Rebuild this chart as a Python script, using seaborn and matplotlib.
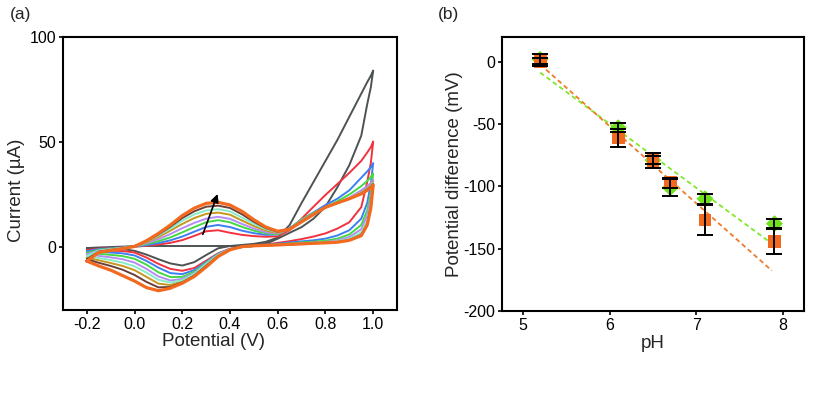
import matplotlib
matplotlib.use("Agg")
import numpy as np
import pandas as pd
import matplotlib.pyplot as plt
import seaborn as sns

# ---- panel (a): cyclic voltammograms ----
potential = [-0.2, -0.15, -0.1, -0.05, 0.0, 0.05, 0.1, 0.15, 0.2, 0.25, 0.3, 0.35, 0.4,
             0.45, 0.5, 0.55, 0.6, 0.65, 0.7, 0.75, 0.8, 0.85, 0.9, 0.95, 0.975, 0.99, 1.0]

scans = ["gray", "red", "blue", "green", "purple", "gold", "aqua", "brown", "orange"]

# anodic (forward) branch, current in uA at each potential
forward = {
    "gray":   [-0.5, -0.2, 0.0, 0.2, 0.4, 0.5, 0.5, 0.5, 0.5, 0.5, 0.5, 0.5, 0.5,
               0.5, 0.6, 1.5, 4.0, 6.8, 9.5, 13.5, 19.2, 28.5, 39.0, 53.0, 68.0, 76.0, 84.0],
    "red":    [-1.5, -0.8, -0.5, -0.2, 0.2, 0.6, 1.2, 2.0, 3.3, 5.3, 7.5, 8.0, 6.8,
               5.8, 5.2, 4.9, 5.1, 8.0, 13.5, 19.2, 24.8, 30.0, 35.3, 41.0, 45.0, 47.5, 50.2],
    "blue":   [-2.0, -1.0, -0.6, -0.2, 0.2, 0.9, 1.9, 3.2, 5.0, 7.3, 9.6, 10.5, 9.5,
               7.8, 6.6, 5.8, 6.0, 9.0, 13.0, 16.5, 20.0, 23.0, 27.0, 33.0, 36.0, 38.0, 40.0],
    "green":  [-2.8, -1.3, -0.8, -0.3, 0.3, 1.4, 2.8, 4.6, 7.0, 9.5, 11.8, 12.8, 11.8,
               9.6, 7.8, 6.5, 6.0, 8.8, 13.2, 16.3, 19.0, 21.8, 25.0, 29.0, 31.5, 33.3, 35.0],
    "purple": [-3.5, -1.6, -1.0, -0.4, 0.3, 1.8, 3.8, 6.2, 9.0, 11.5, 13.5, 14.4, 13.4,
               11.0, 8.8, 7.0, 6.4, 8.5, 12.8, 16.0, 19.0, 21.0, 23.5, 27.0, 29.0, 30.5, 32.0],
    "gold":   [-5.0, -2.0, -1.2, -0.5, 0.4, 2.3, 4.8, 7.8, 11.0, 13.8, 15.8, 16.4, 15.4,
               12.6, 10.0, 7.8, 6.8, 8.4, 12.4, 15.8, 18.9, 21.0, 23.0, 26.0, 28.0, 29.5, 31.0],
    "aqua":   [-4.2, -1.8, -1.1, -0.5, 0.4, 2.6, 5.5, 8.8, 12.5, 15.5, 17.4, 18.0, 17.0,
               14.0, 11.0, 8.5, 7.0, 8.4, 12.2, 15.6, 18.9, 21.0, 23.0, 25.8, 27.8, 29.2, 30.5],
    "brown":  [-5.8, -2.2, -1.4, -0.7, 0.4, 2.8, 6.0, 9.7, 13.8, 17.0, 19.2, 19.7, 18.6,
               15.6, 12.0, 9.0, 7.2, 8.4, 12.1, 15.5, 18.9, 21.0, 23.0, 25.5, 27.5, 28.8, 30.0],
    "orange": [-6.7, -2.5, -1.6, -0.8, 0.3, 3.0, 6.5, 10.5, 15.0, 18.5, 20.8, 21.3, 20.0,
               17.0, 13.0, 9.5, 7.5, 8.5, 12.0, 15.5, 18.9, 21.0, 23.0, 25.3, 27.0, 28.3, 29.5],
}

# cathodic (reverse) branch, listed at the same ascending potentials
reverse = {
    "gray":   [-0.5, -0.6, -0.8, -1.0, -1.8, -3.6, -5.8, -7.8, -8.8, -7.2, -3.8, -0.6, 0.5,
               1.0, 1.5, 2.5, 4.5, 10.5, 21.0, 31.0, 41.0, 51.0, 62.0, 73.0, 78.5, 81.5, 84.0],
    "red":    [-1.5, -1.6, -1.7, -1.9, -2.6, -5.0, -8.0, -10.4, -11.3, -10.0, -6.5, -3.0, -0.8,
               0.0, 0.6, 1.2, 2.0, 2.8, 3.8, 5.0, 6.5, 8.8, 11.8, 19.0, 31.0, 40.0, 50.2],
    "blue":   [-2.0, -2.3, -2.6, -3.0, -4.0, -6.6, -9.8, -12.4, -12.9, -11.0, -7.0, -3.2, -0.9,
               0.0, 0.5, 1.0, 1.6, 2.2, 2.7, 3.2, 4.0, 5.5, 8.0, 13.5, 21.0, 30.0, 40.0],
    "green":  [-2.8, -3.2, -3.7, -4.3, -5.6, -8.4, -12.0, -14.3, -14.2, -11.8, -7.4, -3.4, -1.0,
               0.0, 0.5, 0.9, 1.3, 1.7, 2.2, 2.5, 3.0, 4.0, 6.0, 10.5, 17.5, 26.0, 35.0],
    "purple": [-3.5, -4.2, -4.9, -5.8, -7.4, -10.4, -14.0, -15.9, -15.2, -12.4, -7.8, -3.6, -1.0,
               0.0, 0.5, 0.8, 1.1, 1.4, 1.8, 2.1, 2.4, 3.2, 4.8, 8.5, 15.0, 23.5, 32.0],
    "gold":   [-5.0, -6.3, -7.6, -9.0, -11.0, -14.2, -17.4, -18.1, -16.3, -13.2, -8.5, -4.0, -1.1,
               0.1, 0.5, 0.8, 1.0, 1.2, 1.5, 1.8, 2.1, 2.6, 3.6, 6.3, 11.5, 20.0, 31.0],
    "aqua":   [-4.2, -5.2, -6.2, -7.4, -9.2, -12.2, -15.6, -16.9, -15.8, -12.8, -8.1, -3.8, -1.1,
               0.1, 0.5, 0.8, 1.0, 1.3, 1.6, 1.9, 2.2, 2.8, 4.0, 7.0, 12.5, 20.5, 30.5],
    "brown":  [-5.8, -7.5, -9.0, -10.8, -13.3, -16.6, -19.2, -19.0, -16.8, -13.6, -8.9, -4.2, -1.2,
               0.2, 0.6, 0.8, 1.0, 1.2, 1.5, 1.8, 2.0, 2.4, 3.3, 5.8, 10.8, 19.5, 30.0],
    "orange": [-6.7, -9.0, -11.0, -13.6, -16.2, -19.3, -20.8, -19.6, -17.2, -14.0, -9.5, -4.5, -1.3,
               0.2, 0.6, 0.8, 1.0, 1.3, 1.5, 1.8, 2.0, 2.3, 3.2, 5.4, 10.5, 18.5, 29.5],
}

# ---- panel (b): pH response ----
ph = [5.2, 6.1, 6.5, 6.7, 7.1, 7.9]
green_mv = [2, -53, -79, -101, -110, -130]
green_err = [4, 3.5, 3, 7, 4, 3.5]
orange_mv = [0, -61, -79, -97, -127, -144]
orange_err = [3, 7, 6, 4, 12, 10]
fit_ph = [5.2, 7.87]
green_fit = [-8.6, -146]
orange_fit = [-2, -167.7]

colors = {"gray": "#4d5353", "red": "#f2323f", "blue": "#3d7ff2", "green": "#44d844",
          "purple": "#b58cf2", "gold": "#c6961f", "aqua": "#84ecc8", "brown": "#6b4038",
          "orange": "#f26a1f"}

sns.set_theme(style="ticks")
plt.rcParams["font.family"] = ["Liberation Sans", "DejaVu Sans"]
plt.rcParams["axes.unicode_minus"] = False

fig = plt.figure(figsize=(8.31, 3.93), dpi=100)
ax1 = fig.add_axes([0.0758, 0.211, 0.402, 0.695])
ax2 = fig.add_axes([0.604, 0.209, 0.3635, 0.697])

rows = []
for name in scans:
    e = potential + potential[::-1]
    cur = forward[name] + reverse[name][::-1]
    for k, (x, y) in enumerate(zip(e, cur)):
        rows.append({"scan": name, "order": k, "E": x, "I": y})
cv = pd.DataFrame(rows)

for name in scans:
    sub = cv[cv["scan"] == name]
    sns.lineplot(data=sub, x="E", y="I", sort=False, estimator=None, ax=ax1,
                 color=colors[name], lw=2.3 if name == "orange" else 1.4)

ax1.annotate("", xy=(0.352, 26.5), xytext=(0.282, 4.8),
             arrowprops=dict(arrowstyle="-|>", color="black", lw=1.2,
                             mutation_scale=12))
ax1.set_xlim(-0.3, 1.1)
ax1.set_ylim(-30, 100)
ax1.set_xticks([-0.2, 0.0, 0.2, 0.4, 0.6, 0.8, 1.0])
ax1.set_xticklabels(["-0.2", "0.0", "0.2", "0.4", "0.6", "0.8", "1.0"])
ax1.set_yticks([0, 50, 100])
ax1.set_xlabel("Potential (V)", fontsize=13.5)
ax1.set_ylabel("Current (µA)", fontsize=13.5)
ax1.xaxis.set_label_coords(0.45, -0.085)
ax1.yaxis.set_label_coords(-0.115, 0.44)

sns.lineplot(x=fit_ph, y=green_fit, ax=ax2, color="#7ee82a", lw=1.3,
             linestyle=(0, (2.6, 1.8)))
sns.lineplot(x=fit_ph, y=orange_fit, ax=ax2, color="#f27a2a", lw=1.3,
             linestyle=(0, (2.6, 1.8)))
sns.scatterplot(x=ph, y=green_mv, ax=ax2, marker="D", s=75, color="#6fe01c",
                edgecolor="none", zorder=3)
sns.scatterplot(x=ph, y=orange_mv, ax=ax2, marker="s", s=85, color="#f26a1f",
                edgecolor="none", zorder=4)
ax2.errorbar(ph, green_mv, yerr=green_err, fmt="none", ecolor="black",
             elinewidth=1.4, capsize=5.5, capthick=1.4, zorder=5)
ax2.errorbar(ph, orange_mv, yerr=orange_err, fmt="none", ecolor="black",
             elinewidth=1.4, capsize=5.5, capthick=1.4, zorder=5)
ax2.set_xlim(4.76, 8.24)
ax2.set_ylim(-200, 20)
ax2.set_xticks([5, 6, 7, 8])
ax2.set_yticks([0, -50, -100, -150, -200])
ax2.set_xlabel("pH", fontsize=13.5)
ax2.set_ylabel("Potential difference (mV)", fontsize=13.5)
ax2.xaxis.set_label_coords(0.5, -0.088)
ax2.yaxis.set_label_coords(-0.13, 0.5)

for ax in (ax1, ax2):
    for sp in ax.spines.values():
        sp.set_visible(True)
        sp.set_linewidth(1.5)
        sp.set_color("black")
    ax.tick_params(direction="out", length=3, width=1.2, labelsize=11.5,
                   colors="black", pad=2)

fig.text(0.012, 0.962, "(a)", fontsize=12.5, va="center")
fig.text(0.527, 0.962, "(b)", fontsize=12.5, va="center")

fig.savefig("out.png", dpi=100, facecolor="white")
